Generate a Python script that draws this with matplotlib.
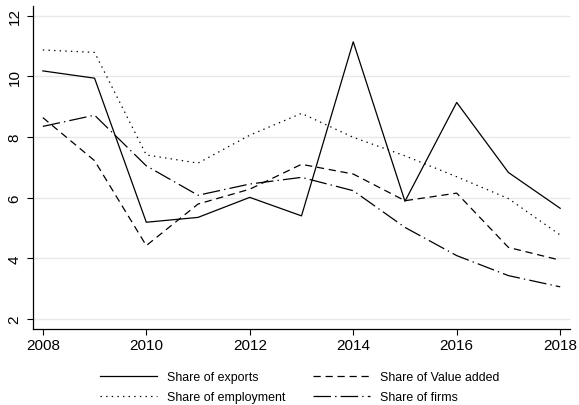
import matplotlib
matplotlib.use('Agg')
import matplotlib.pyplot as plt

plt.rcParams['font.family'] = ['Liberation Sans', 'DejaVu Sans']

years = [2008, 2009, 2010, 2011, 2012, 2013, 2014, 2015, 2016, 2017, 2018]
exports = [10.18, 9.94, 5.19, 5.35, 6.01, 5.40, 11.14, 5.88, 9.14, 6.83, 5.65]
value_added = [8.64, 7.22, 4.42, 5.79, 6.28, 7.10, 6.78, 5.90, 6.15, 4.36, 3.94]
employment = [10.87, 10.79, 7.41, 7.14, 8.06, 8.78, 7.99, 7.38, 6.69, 5.97, 4.77]
firms = [8.35, 8.72, 7.05, 6.08, 6.45, 6.67, 6.23, 5.02, 4.09, 3.43, 3.06]

fig = plt.figure(figsize=(5.79, 4.06), dpi=100)
ax = fig.add_axes([33 / 579, 1 - 330 / 406, (570 - 33) / 579, (330 - 7) / 406])

lw = 0.9
l1, = ax.plot(years, exports, color='black', lw=lw, linestyle='-', label='Share of exports')
l2, = ax.plot(years, value_added, color='black', lw=lw, linestyle=(0, (5.8, 3.8)), label='Share of Value added')
l3, = ax.plot(years, employment, color='black', lw=lw, linestyle=(0, (1.1, 3.4)), label='Share of employment')
l4, = ax.plot(years, firms, color='black', lw=lw, linestyle=(0, (14, 3.3, 1.1, 3.3)), label='Share of firms')

ax.set_xlim(2007.81, 2018.19)
ax.set_ylim(1.67, 12.32)
ax.set_xticks([2008, 2010, 2012, 2014, 2016, 2018])
ax.set_yticks([2, 4, 6, 8, 10, 12])
ax.tick_params(axis='both', labelsize=11, direction='out', length=4.3, width=0.8, colors='black')
ax.tick_params(axis='x', pad=2)
ax.tick_params(axis='y', pad=4)
for lab in ax.get_yticklabels():
    lab.set_rotation(90)
    lab.set_va('center')
ax.yaxis.grid(True, color='#e8e8e8', lw=1.0)
ax.set_axisbelow(True)
ax.spines['top'].set_visible(False)
ax.spines['right'].set_visible(False)
ax.spines['left'].set_linewidth(0.9)
ax.spines['bottom'].set_linewidth(0.9)

fig.legend([l1, l3, l2, l4], [l1.get_label(), l3.get_label(), l2.get_label(), l4.get_label()],
           ncol=2, loc='upper left', bbox_to_anchor=(100 / 579, 1 - 372 / 406), frameon=False,
           borderpad=0, borderaxespad=0,
           fontsize=8.9, handlelength=4.6, columnspacing=2.2, labelspacing=0.65, handletextpad=0.85)

fig.savefig('out.png', dpi=100)
